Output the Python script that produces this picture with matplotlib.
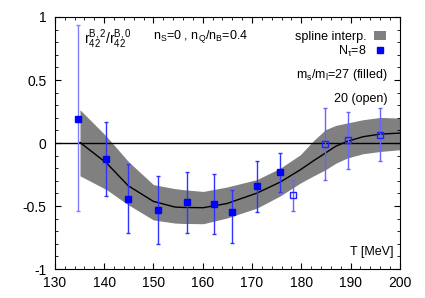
import numpy as np
import matplotlib.pyplot as plt
from matplotlib.patches import Patch
from matplotlib.lines import Line2D
from matplotlib.ticker import MultipleLocator

plt.rcParams['font.family'] = ['Liberation Sans', 'DejaVu Sans']
plt.rcParams['mathtext.fontset'] = 'custom'
plt.rcParams['mathtext.rm'] = 'Liberation Sans'
plt.rcParams['mathtext.it'] = 'Liberation Sans'

# filled points (m_s/m_l = 27)
T_filled = [134.7, 140.4, 144.9, 151.0, 156.8, 162.3, 166.0, 171.0, 175.7]
r_filled = [0.193, -0.125, -0.445, -0.53, -0.47, -0.48, -0.545, -0.344, -0.23]
err_up_filled = [0.74, 0.295, 0.275, 0.27, 0.237, 0.236, 0.175, 0.198, 0.15]
err_dn_filled = [0.73, 0.295, 0.265, 0.27, 0.24, 0.24, 0.245, 0.201, 0.16]

# open points (m_s/m_l = 20)
T_open = [178.3, 184.8, 189.5, 196.0]
r_open = [-0.415, -0.008, 0.026, 0.066]
err_up_open = [0.118, 0.288, 0.224, 0.209]
err_dn_open = [0.125, 0.289, 0.232, 0.206]

# spline interpolation: central line and band
T_spl = [135.1, 140.5, 144.9, 150.0, 154.4, 156.1, 160.1, 164.9, 171.0, 175.7, 179.8, 182.5, 184.9, 187.0, 189.3, 192.5, 196.0, 200.0]
r_spl = [0.005, -0.159, -0.339, -0.463, -0.508, -0.511, -0.513, -0.48, -0.397, -0.31, -0.212, -0.14, -0.079, -0.025, 0.013, 0.05, 0.071, 0.079]
band_hi = [0.264, 0.052, -0.146, -0.33, -0.362, -0.37, -0.384, -0.349, -0.29, -0.2, -0.093, 0.02, 0.106, 0.14, 0.159, 0.185, 0.203, 0.198]
band_lo = [-0.26, -0.37, -0.49, -0.61, -0.635, -0.638, -0.64, -0.595, -0.516, -0.42, -0.317, -0.26, -0.212, -0.16, -0.119, -0.085, -0.067, -0.053]

fig = plt.figure(figsize=(4.25, 2.98), dpi=100)
ax = fig.add_axes([0.129, 0.097, 0.812, 0.846])

ax.fill_between(T_spl, band_lo, band_hi, color='#808080', lw=0, zorder=1)
ax.plot(T_spl, r_spl, color='black', lw=1.0, zorder=2)
ax.axhline(0, color='black', lw=1.0, zorder=2)

# first point has pale error bar
ax.errorbar(T_filled[:1], r_filled[:1], yerr=[err_dn_filled[:1], err_up_filled[:1]],
            fmt='none', ecolor=(0.5, 0.5, 1.0), elinewidth=1.0, capsize=1.5, zorder=3)
ax.errorbar(T_filled[1:], r_filled[1:], yerr=[err_dn_filled[1:], err_up_filled[1:]],
            fmt='none', ecolor=(0.2, 0.2, 1.0), elinewidth=1.0, capsize=1.5, zorder=3)
ax.errorbar(T_open, r_open, yerr=[err_dn_open, err_up_open],
            fmt='none', ecolor=(0.4, 0.4, 1.0), elinewidth=1.0, capsize=1.5, zorder=3)
ax.plot(T_filled, r_filled, 's', color='#0000ff', ms=5, zorder=4)
ax.plot(T_open, r_open, 's', mfc='none', mec='#2222ff', mew=1.0, ms=5, zorder=4)

ax.set_xlim(130, 200)
ax.set_ylim(-1, 1)
ax.xaxis.set_major_locator(MultipleLocator(10))
ax.xaxis.set_minor_locator(MultipleLocator(2))
ax.yaxis.set_minor_locator(MultipleLocator(0.1))
ax.set_yticks([-1, -0.5, 0, 0.5, 1])
ax.set_yticklabels(['-1', '-0.5', '0', '0.5', '1'])
ax.tick_params(which='both', direction='in', top=True, right=True, labelsize=10)
ax.tick_params(axis='x', pad=5)
ax.tick_params(axis='y', pad=6)
ax.tick_params(which='major', length=4)
ax.tick_params(which='minor', length=2)
for s in ax.spines.values():
    s.set_linewidth(0.8)

ax.text(0.085, 0.955, r'$\mathregular{r_{42}^{B,2}/r_{42}^{B,0}}$', transform=ax.transAxes,
        fontsize=10, va='top', ha='left')
ax.text(0.285, 0.955, r'$\mathregular{n_S}$=0 , $\mathregular{n_Q/n_B}$=0.4', transform=ax.transAxes,
        fontsize=9, va='top', ha='left')
ax.text(0.98, 0.045, 'T [MeV]', transform=ax.transAxes, fontsize=9, ha='right', va='bottom')
ax.text(0.965, 0.77, r'$\mathregular{m_s/m_l}$=27 (filled)', transform=ax.transAxes,
        fontsize=9, ha='right', va='center')
ax.text(0.965, 0.675, '20 (open)', transform=ax.transAxes, fontsize=9, ha='right', va='center')

handles = [Patch(facecolor='#808080', edgecolor='none'),
           Line2D([], [], marker='s', color='#0000ff', ls='none', ms=5)]
ax.legend(handles, ['spline interp.', r'$\mathregular{N_\tau}$=8'], loc='upper right',
          frameon=False, markerfirst=False, fontsize=9, handlelength=1.0, handleheight=0.7,
          handletextpad=0.6, labelspacing=0.05, borderaxespad=0.0, bbox_to_anchor=(0.975, 0.965))

fig.savefig('out.png', dpi=100)
